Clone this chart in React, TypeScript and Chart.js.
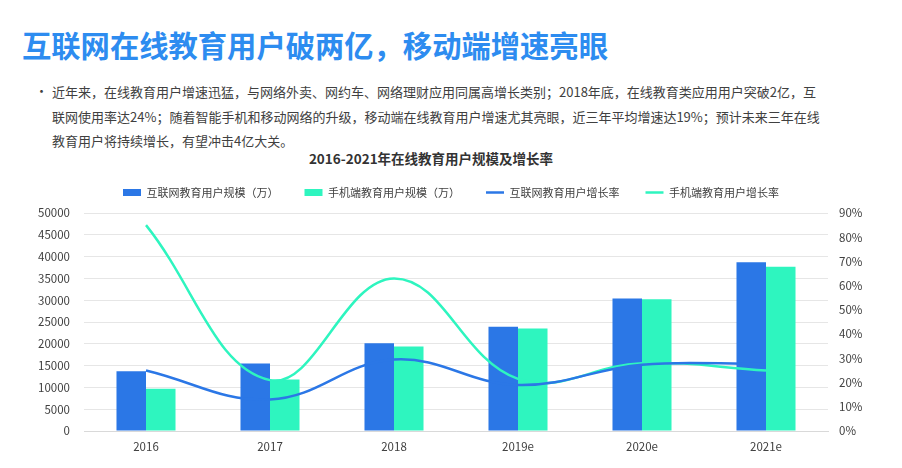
import React, { useEffect, useRef } from "react";
import { Chart, registerables } from "chart.js";

Chart.register(...registerables);

const categories = ["2016", "2017", "2018", "2019e", "2020e", "2021e"];
const internetUsers = [13700, 15500, 20100, 23900, 30400, 38700];
const mobileUsers = [9700, 11800, 19400, 23500, 30200, 37700];
const internetRate = [25, 13, 29.5, 19, 27.4, 27.6];
const mobileRate = [85, 21, 63, 21.5, 28, 25];
const leftTicksMax = 50000;
const rightTicksMax = 90;

const BLUE = "#2b77e6";
const GREEN = "#2ef5bf";
const TEXT = "#404040";
const FONT = "'Noto Sans CJK SC', 'Noto Sans', sans-serif";

const legendGap = {
  id: "legendGap",
  beforeInit(chart: any) {
    const lg = chart.legend;
    if (!lg) return;
    const orig = lg.fit;
    lg.fit = function () {
      orig.call(this);
      this.height += 5;
    };
  },
};

export default function App() {
  const ref = useRef<HTMLCanvasElement | null>(null);

  useEffect(() => {
    if (!ref.current) return;
    const chart = new Chart(ref.current, {
      type: "bar",
      plugins: [legendGap],
      data: {
        labels: categories,
        datasets: [
          {
            type: "bar",
            label: "互联网教育用户规模（万）",
            data: internetUsers,
            backgroundColor: BLUE,
            borderWidth: 0,
            yAxisID: "y",
            order: 2,
            pointStyle: "rect",
            barPercentage: 1,
            categoryPercentage: 0.476,
          },
          {
            type: "bar",
            label: "手机端教育用户规模（万）",
            data: mobileUsers,
            backgroundColor: GREEN,
            borderWidth: 0,
            yAxisID: "y",
            order: 2,
            pointStyle: "rect",
            barPercentage: 1,
            categoryPercentage: 0.476,
          },
          {
            type: "line",
            label: "互联网教育用户增长率",
            data: internetRate,
            borderColor: BLUE,
            backgroundColor: BLUE,
            borderWidth: 2.5,
            pointRadius: 0,
            tension: 0.4,
            yAxisID: "y1",
            order: 1,
            pointStyle: "line",
          },
          {
            type: "line",
            label: "手机端教育用户增长率",
            data: mobileRate,
            borderColor: GREEN,
            backgroundColor: GREEN,
            borderWidth: 2.5,
            pointRadius: 0,
            tension: 0.4,
            yAxisID: "y1",
            order: 1,
            pointStyle: "line",
          },
        ],
      },
      options: {
        animation: false,
        responsive: false,
        maintainAspectRatio: false,
        layout: { padding: { top: 0, bottom: 0, left: 0, right: 0 } },
        plugins: {
          title: { display: false },
          tooltip: { enabled: false },
          legend: {
            display: true,
            position: "top",
            labels: {
              usePointStyle: true,
              pointStyleWidth: 18,
              boxHeight: 7,
              padding: 26,
              color: TEXT,
              font: { family: FONT, size: 11 },
              sort: (a: any, b: any) => a.datasetIndex - b.datasetIndex,
            },
          },
        },
        scales: {
          x: {
            grid: { display: false, drawTicks: false },
            border: { display: true, color: "#d9d9d9", width: 1 },
            ticks: {
              color: TEXT,
              padding: 9,
              font: { family: FONT, size: 11.5 },
            },
            afterFit: (s: any) => {
              s.height = 29;
            },
          },
          y: {
            position: "left",
            min: 0,
            max: leftTicksMax,
            ticks: {
              stepSize: 5000,
              color: TEXT,
              padding: 14,
              font: { family: FONT, size: 11.5 },
              callback: (v: any) => String(v),
            },
            grid: { color: "#e6e6e6", lineWidth: 1, drawTicks: false },
            border: { display: false },
            afterFit: (s: any) => {
              s.width = 84;
            },
          },
          y1: {
            position: "right",
            min: 0,
            max: rightTicksMax,
            ticks: {
              stepSize: 10,
              color: TEXT,
              padding: 11,
              font: { family: FONT, size: 11.5 },
              callback: (v: any) => v + "%",
            },
            grid: { display: false, drawTicks: false },
            border: { display: false },
            afterFit: (s: any) => {
              s.width = 74;
            },
          },
        },
      },
    });
    return () => chart.destroy();
  }, []);

  return (
    <div
      style={{
        position: "absolute",
        left: 0,
        top: 0,
        width: 902,
        height: 468,
        background: "#fff",
        fontFamily: FONT,
        overflow: "hidden",
      }}
    >
      <div
        style={{
          position: "absolute",
          left: 22,
          top: 30,
          fontSize: 29.3,
          lineHeight: "29px",
          fontWeight: 700,
          color: "#2d8cf0",
          whiteSpace: "nowrap",
        }}
      >
        互联网在线教育用户破两亿，移动端增速亮眼
      </div>
      <div
        style={{
          position: "absolute",
          left: 35,
          top: 79,
          fontSize: 13,
          lineHeight: "24.5px",
          color: TEXT,
          whiteSpace: "nowrap",
        }}
      >
        •
      </div>
      <div
        style={{
          position: "absolute",
          left: 52,
          top: 80,
          fontSize: 13,
          lineHeight: "24.5px",
          color: TEXT,
          whiteSpace: "nowrap",
        }}
      >
        近年来，在线教育用户增速迅猛，与网络外卖、网约车、网络理财应用同属高增长类别；2018年底，在线教育类应用用户突破2亿，互
        <br />
        联网使用率达24%；随着智能手机和移动网络的升级，移动端在线教育用户增速尤其亮眼，近三年平均增速达19%；预计未来三年在线
        <br />
        教育用户将持续增长，有望冲击4亿大关。
      </div>
      <div
        style={{
          position: "absolute",
          left: 231,
          width: 400,
          top: 149,
          textAlign: "center",
          fontSize: 13.5,
          lineHeight: "18px",
          fontWeight: 700,
          color: "#333",
          whiteSpace: "nowrap",
        }}
      >
        2016-2021年在线教育用户规模及增长率
      </div>
      <div style={{ position: "absolute", left: 0, top: 161, width: 902, height: 299 }}>
        <canvas ref={ref} width={902} height={299} style={{ width: 902, height: 299 }} />
      </div>
    </div>
  );
}
